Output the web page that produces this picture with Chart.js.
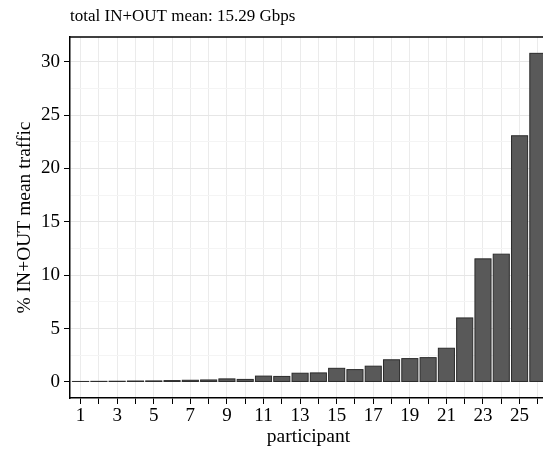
<!DOCTYPE html>
<html>
<head>
<meta charset="utf-8">
<script src="https://cdn.jsdelivr.net/npm/chart.js@4/dist/chart.umd.min.js"></script>
<style>
  html, body { margin: 0; padding: 0; background: #fff; overflow: hidden; }
  #wrap { position: absolute; left: 0; top: 0; width: 560px; height: 452px; }
</style>
</head>
<body>
<div id="wrap"><canvas id="chart" width="560" height="452"></canvas></div>
<script>
// participants, ordered by their share of the total traffic
const participants = [1,2,3,4,5,6,7,8,9,10,11,12,13,14,15,16,17,18,19,20,21,22,23,24,25,26];
// share of IN+OUT mean traffic per participant, in percent
const sharePct = [0.05,0.06,0.07,0.09,0.10,0.13,0.16,0.19,0.29,0.24,0.55,0.52,0.82,0.85,1.28,1.16,1.48,2.08,2.19,2.28,3.16,6.00,11.53,11.97,23.06,30.78];
// y tick positions (labels only on multiples of 5)
const yTicks = [0,2.5,5,7.5,10,12.5,15,17.5,20,22.5,25,27.5,30];
const titleText = 'total IN+OUT mean: 15.29 Gbps';

const serif = "'Liberation Serif', 'Times New Roman', serif";

// outline every bar with a stroke centred on its edge, so even the
// near-zero bars show up as a thin dark line
const barOutline = {
  id: 'barOutline',
  afterDatasetsDraw(chart) {
    const { ctx } = chart;
    const meta = chart.getDatasetMeta(0);
    ctx.save();
    ctx.strokeStyle = '#2b2b2b';
    ctx.lineWidth = 1;
    meta.data.forEach(bar => {
      const p = bar.getProps(['x', 'y', 'base', 'width'], true);
      const top = Math.min(p.y, p.base);
      const h = Math.abs(p.base - p.y);
      ctx.strokeRect(p.x - p.width / 2, top, p.width, h);
    });
    ctx.restore();
  }
};

const framePlugin = {
  id: 'frame',
  afterDraw(chart) {
    const { ctx, chartArea: a } = chart;
    ctx.save();
    ctx.strokeStyle = '#000';
    ctx.lineWidth = 1.5;
    ctx.beginPath();
    ctx.moveTo(a.left, a.top);
    ctx.lineTo(a.right, a.top);
    ctx.stroke();
    ctx.fillStyle = '#000';
    ctx.font = '17px ' + serif;
    ctx.textBaseline = 'alphabetic';
    ctx.textAlign = 'left';
    ctx.fillText(titleText, a.left, 21);
    ctx.restore();
  }
};

new Chart(document.getElementById('chart'), {
  type: 'bar',
  data: {
    datasets: [{
      data: participants.map((p, i) => ({ x: p, y: sharePct[i] })),
      backgroundColor: '#595959',
      borderWidth: 0,
      inflateAmount: 0,
      barPercentage: 0.88,
      categoryPercentage: 1.0
    }]
  },
  options: {
    responsive: false,
    animation: false,
    devicePixelRatio: 1,
    layout: { padding: { top: 37, right: 13, left: 0, bottom: 0 } },
    plugins: { legend: { display: false }, tooltip: { enabled: false }, title: { display: false } },
    scales: {
      x: {
        type: 'linear',
        offset: false,
        min: 0.42,
        max: 26.5,
        afterBuildTicks: s => { s.ticks = participants.map(v => ({ value: v })); },
        afterFit: s => { s.height = 54; },
        ticks: {
          autoSkip: false,
          maxRotation: 0,
          color: '#000',
          padding: 1,
          font: { family: serif, size: 19 },
          callback: v => (v % 2 === 1 ? String(v) : '')
        },
        grid: { offset: false, color: '#ebebeb', lineWidth: 1, tickColor: '#000', tickLength: 6, drawTicks: true },
        border: { display: true, color: '#000', width: 1.5 },
        title: {
          display: true, text: 'participant', color: '#000',
          font: { family: serif, size: 19.5 }, padding: { top: 0, bottom: 3 }
        }
      },
      y: {
        type: 'linear',
        min: -1.5,
        max: 32.31,
        afterBuildTicks: s => { s.ticks = yTicks.map(v => ({ value: v })); },
        afterFit: s => { s.width = 70; },
        ticks: {
          color: '#000',
          padding: 4,
          font: { family: serif, size: 19 },
          callback: v => (v % 5 === 0 ? String(v) : '')
        },
        grid: {
          color: c => (c.tick && c.tick.value % 5 === 0 ? '#e6e6e6' : '#f4f4f4'),
          tickColor: c => (c.tick && c.tick.value % 5 === 0 ? '#000' : 'rgba(0,0,0,0)'),
          tickLength: 6,
          lineWidth: 1
        },
        border: { display: true, color: '#000', width: 1.5 },
        title: {
          display: true, text: '% IN+OUT mean traffic', color: '#000',
          font: { family: serif, size: 19.5 }, padding: { top: 13, bottom: 0 }
        }
      }
    }
  },
  plugins: [barOutline, framePlugin]
});
</script>
</body>
</html>
